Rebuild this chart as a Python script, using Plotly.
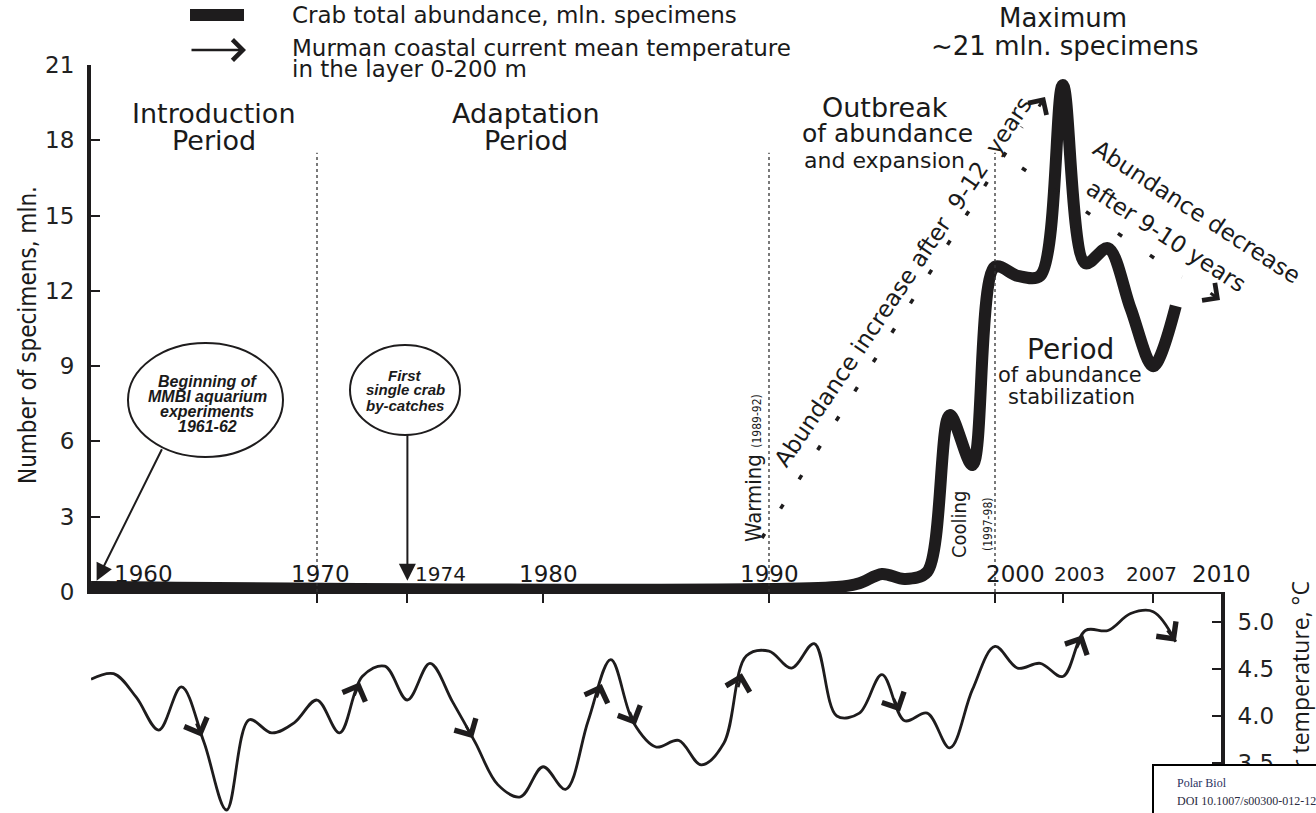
import plotly.graph_objects as go
import numpy as np

# ---------------- data ----------------
CRAB_YEARS = [1960, 1993, 1994, 1995, 1996, 1997, 1998, 1999, 2000, 2001, 2002,
              2003, 2004, 2005, 2006, 2007, 2008]
CRAB_ABUNDANCE = [0.2, 0.2, 0.35, 0.72, 0.52, 0.8, 7.05, 5.06, 12.96, 12.6, 12.6,
                  20.2, 13.1, 13.7, 11.3, 9.0, 11.4]

TEMP_YEARS = list(range(1960, 2009))
TEMP_VALUES = [4.39, 4.45, 4.20, 3.85, 4.31, 3.72, 3.00, 3.96, 3.82, 3.93,
               4.17, 3.82, 4.42, 4.53, 4.17, 4.56, 4.15, 3.72, 3.27, 3.14,
               3.46, 3.22, 3.95, 4.60, 3.93, 3.67, 3.74, 3.48, 3.71, 4.64,
               4.69, 4.51, 4.77, 4.00, 4.03, 4.44, 3.95, 4.03, 3.66, 4.28,
               4.74, 4.51, 4.56, 4.42, 4.91, 4.91, 5.09, 5.11, 4.79]

ARROW_YEARS = [1964.9, 1971.9, 1976.9, 1982.6, 1984.1, 1988.8, 1995.8, 2003.9, 2008.0]

X_TICKS = [1970, 1974, 1980, 1990, 2000, 2003, 2007]
YEAR_LABELS = [1960, 1970, 1974, 1980, 1990, 2000, 2003, 2007, 2010]
Y_TICKS = [0, 3, 6, 9, 12, 15, 18, 21]
TEMP_TICKS = [3.5, 4.0, 4.5, 5.0]
PERIOD_BOUNDARIES = [1970, 1990, 2000]

# ---------------- geometry helpers ----------------
W, H = 1316, 813
L, R = 91, 1221
PX_PER_YEAR = (R - L) / 50.0
PX_PER_DEG = 94.0


def px(x):
    return (x - L) / (R - L)


def py(y):
    return 1 - y / H


BLACK = "#1e1c1d"
SANS = "DejaVu Sans, Verdana, sans-serif"
NARROW = "Liberation Sans Narrow, DejaVu Sans Condensed, Arial Narrow, sans-serif"
ARIAL = "Liberation Sans, Arial, sans-serif"

fig = go.Figure()

fig.add_trace(go.Scatter(
    x=TEMP_YEARS, y=TEMP_VALUES, xaxis="x", yaxis="y2", mode="lines",
    line=dict(color=BLACK, width=2.8, shape="spline", smoothing=1.0),
    hoverinfo="skip"))

fig.add_trace(go.Scatter(
    x=CRAB_YEARS, y=CRAB_ABUNDANCE, xaxis="x", yaxis="y", mode="lines",
    line=dict(color=BLACK, width=12, shape="spline", smoothing=0.9),
    hoverinfo="skip", cliponaxis=False))

top_lo, top_hi = py(592), py(65)
t_bottom = 5.0 - (813 - 622) / PX_PER_DEG
t_top = 5.0 + (622 - 592) / PX_PER_DEG

fig.update_layout(
    width=W, height=H, showlegend=False,
    margin=dict(l=L, r=W - R, t=0, b=0, autoexpand=False),
    plot_bgcolor="white", paper_bgcolor="white",
    xaxis=dict(range=[1960, 2010], domain=[0, 1], anchor="y", automargin=False,
               showline=True, linecolor=BLACK, linewidth=2,
               ticks="outside", tickvals=X_TICKS, ticklen=9, tickwidth=2,
               tickcolor=BLACK, showticklabels=False,
               showgrid=False, zeroline=False),
    yaxis=dict(range=[0, 21], domain=[top_lo, top_hi], anchor="x", automargin=False,
               showline=True, linecolor=BLACK, linewidth=4,
               ticks="inside", tickvals=Y_TICKS, ticklen=9, tickwidth=2,
               tickcolor=BLACK, tickfont=dict(family=SANS, size=23, color="#222"),
               ticklabelstandoff=8, showgrid=False, zeroline=False),
    yaxis2=dict(range=[t_bottom, t_top], domain=[0, top_lo], anchor="x",
                automargin=False,
                side="right", showline=True, linecolor=BLACK, linewidth=4,
                ticks="inside", tickvals=TEMP_TICKS,
                ticktext=[f"{v:.1f}" for v in TEMP_TICKS],
                ticklen=9, tickwidth=2, tickcolor=BLACK,
                tickfont=dict(family=SANS, size=23, color="#222"),
                ticklabelstandoff=8, showgrid=False, zeroline=False),
)

shapes = []
# dotted period boundaries
for yr in PERIOD_BOUNDARIES:
    shapes.append(dict(type="line", xref="x", yref="y", x0=yr, x1=yr, y0=0, y1=17.5,
                       line=dict(color="#333", width=1.3, dash="dot")))

# legend thick bar
shapes.append(dict(type="line", xref="paper", yref="paper", x0=px(190), x1=px(244),
                   y0=py(15), y1=py(15), line=dict(color=BLACK, width=12)))

# dotted trend lines
shapes.append(dict(type="line", xref="paper", yref="paper", x0=px(762), y0=py(538),
                   x1=px(1022), y1=py(127),
                   line=dict(color=BLACK, width=3.5, dash="5px,29.7px")))
shapes.append(dict(type="line", xref="paper", yref="paper", x0=px(1022), y0=py(168),
                   x1=px(1182), y1=py(277),
                   line=dict(color=BLACK, width=3.5, dash="5px,33.7px")))

# callout ellipses
shapes.append(dict(type="circle", xref="paper", yref="paper", x0=px(128), x1=px(283),
                   y0=py(457), y1=py(343), line=dict(color=BLACK, width=2),
                   fillcolor="white", layer="above"))
shapes.append(dict(type="circle", xref="paper", yref="paper", x0=px(350), x1=px(460),
                   y0=py(435), y1=py(345), line=dict(color=BLACK, width=2),
                   fillcolor="white", layer="above"))

fig.update_layout(shapes=shapes)

ann = []


def text(t, x, y, size, family=SANS, xanchor="center", angle=0, color="#1a1a1a"):
    ann.append(dict(text=t, x=px(x), y=py(y), xref="paper", yref="paper",
                    showarrow=False, xanchor=xanchor, yanchor="middle",
                    textangle=angle, font=dict(family=family, size=size, color=color)))


# legend text + arrow glyph
text("Crab total abundance, mln. specimens", 290, 15, 23, xanchor="left")
text("Murman coastal current mean temperature", 290, 48, 23, xanchor="left")
text("in the layer 0-200 m", 290, 69, 23, xanchor="left")
ann.append(dict(x=px(246), y=py(50), xref="paper", yref="paper", ax=-56, ay=0,
                text="", showarrow=True, arrowhead=4, arrowwidth=2.5, arrowsize=1.6,
                arrowcolor=BLACK))

# period labels
text("Introduction", 214, 113, 27)
text("Period", 214, 140, 27)
text("Adaptation", 526, 113, 27)
text("Period", 526, 140, 27)
text("Outbreak", 885, 107, 27)
text("of abundance", 887, 133, 25)
text("and expansion", 884, 160, 22)
text("Maximum", 1063, 18, 26)
text("~21 mln. specimens", 1065, 46, 26)
text("Period", 1070, 350, 28)
text("of abundance", 1070, 375, 21)
text("stabilization", 1071, 397, 21)

# rotated annotations
text("Abundance increase after&nbsp; 9-12&nbsp; years", 903, 282, 23, angle=-56)
text("Abundance decrease", 1197, 212, 23, angle=33)
text("after 9-10 years", 1166, 236, 23, angle=33)
text("Warming <span style='font-size:12px'>(1989-92)</span>", 753, 468, 22,
     family=NARROW, angle=-90)
text("Cooling<br><span style='font-size:12px'>(1997-98)</span>", 971, 525, 20,
     family=NARROW, angle=-90)
text("Number of specimens, mln.", 28, 335, 24, family=NARROW, angle=-90)

# trend arrowheads
ann.append(dict(x=px(1045), y=py(97), xref="paper", yref="paper", ax=-7, ay=11,
                text="", showarrow=True, arrowhead=4, arrowwidth=3, arrowsize=1.4,
                arrowcolor=BLACK))
ann.append(dict(x=px(1220), y=py(300), xref="paper", yref="paper", ax=-11, ay=-8,
                text="", showarrow=True, arrowhead=4, arrowwidth=3, arrowsize=1.4,
                arrowcolor=BLACK))

# year labels inside plot
label_shift = {1960: 52, 1970: 3, 1974: 33, 1980: 5, 1990: 0, 2000: 20, 2003: 17,
               2007: -2, 2010: 0}
label_size = {1960: 23, 1970: 23, 1974: 20, 1980: 23, 1990: 23, 2000: 23, 2003: 20,
              2007: 20, 2010: 23}
for yr in YEAR_LABELS:
    ann.append(dict(text=str(yr), x=yr, y=py(574), xref="x", yref="paper",
                    xshift=label_shift[yr], showarrow=False, xanchor="center",
                    yanchor="middle", font=dict(family=SANS, size=label_size[yr],
                                                color="#1a1a1a")))

# callout texts
for t, y in zip(["Beginning of", "MMBI aquarium", "experiments", "1961-62"],
                [381, 396, 411, 426]):
    text(f"<b><i>{t}</i></b>", 207, y, 16, family=ARIAL)
for t, y in zip(["First", "single crab", "by-catches"], [375, 390, 405]):
    text(f"<b><i>{t}</i></b>", 405, y, 15, family=ARIAL)

# callout pointers
ann.append(dict(x=1960.25, y=0.45, xref="x", yref="y", ax=66, ay=-133,
                text="", showarrow=True, arrowhead=2, arrowwidth=2, arrowsize=1.7,
                arrowcolor=BLACK))
ann.append(dict(x=1974, y=0.45, xref="x", yref="y", ax=0, ay=-148,
                text="", showarrow=True, arrowhead=2, arrowwidth=2, arrowsize=1.7,
                arrowcolor=BLACK))

# temperature direction arrows (chevrons along the curve)
for yr in ARROW_YEARS:
    y0 = float(np.interp(yr, TEMP_YEARS, TEMP_VALUES))
    y1 = float(np.interp(yr - 0.3, TEMP_YEARS, TEMP_VALUES))
    dx = 0.3 * PX_PER_YEAR
    dy = (y0 - y1) * PX_PER_DEG
    n = (dx ** 2 + dy ** 2) ** 0.5
    ann.append(dict(x=yr, y=y0, xref="x", yref="y2",
                    ax=-16 * dx / n, ay=16 * dy / n,
                    text="", showarrow=True, arrowhead=4, arrowwidth=2.5,
                    arrowsize=1.9, arrowcolor=BLACK))

# right axis title (partly hidden below the box)
text("Water temperature, °C", 1300, 703, 23, family="Open Sans, sans-serif", angle=-90)

# journal box on top
ann.append(dict(text=" ", x=px(1152), y=py(764), xref="paper", yref="paper",
                xanchor="left", yanchor="top", showarrow=False, width=220, height=70,
                bgcolor="white", bordercolor="black", borderwidth=2, borderpad=0))
text("Polar Biol", 1175, 783, 12, family="Liberation Serif, Times New Roman, serif",
     xanchor="left", color="#2a3160")
text("DOI 10.1007/s00300-012-1237-x", 1175, 801, 12,
     family="Liberation Serif, Times New Roman, serif", xanchor="left", color="#2a2a40")

fig.update_layout(annotations=ann)

fig.write_html("out.html", config={"displayModeBar": False},
               post_script="document.body.style.margin='0';"
                           "document.body.style.overflow='hidden';")
